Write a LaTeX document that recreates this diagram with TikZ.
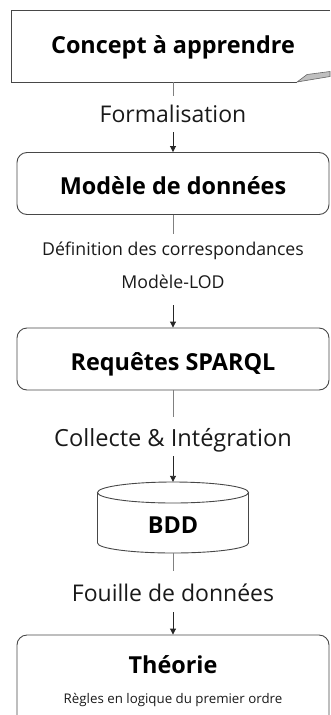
\documentclass[tikz,border=0pt]{standalone}
\usepackage{fontspec}
\setmainfont{Open Sans}
\usetikzlibrary{arrows.meta}
\begin{document}
\begin{tikzpicture}[x=1pt,y=-1pt,
  boxline/.style={draw=black!72, line width=0.9pt},
  rbox/.style={boxline, rounded corners=10pt, minimum width=312pt, minimum height=62pt, inner sep=0pt},
  ghost/.style={draw=none, inner sep=0pt},
  title/.style={font=\fontsize{23.4}{27}\selectfont\bfseries, anchor=base, inner sep=0pt},
  lbl/.style={font=\fontsize{23}{27}\selectfont, anchor=base, inner sep=0pt, text=black!90},
  slbl/.style={font=\fontsize{17.7}{21}\selectfont, anchor=base, inner sep=0pt, text=black!90},
  tiny/.style={font=\fontsize{13.3}{16}\selectfont, anchor=base, inner sep=0pt, text=black!90},
  lead/.style={draw=black!50, line width=0.9pt},
  arr/.style={draw=black!85, line width=0.9pt, -{Triangle[width=6pt,length=6pt]}}]
\useasboundingbox (0,0) rectangle (330,715);

% note box
\node[ghost, minimum width=326pt, minimum height=72pt] (note) at (173,46) {};
\draw[boxline] (330,10) -- (11,10) -- (11,82) -- (297,82);
\draw[draw=black!60, fill=black!25, line width=0.6pt] (297,82) -- (307,74.5) -- (330,71.5) -- (330,76.5) -- cycle;
\node[title] (t1) at (173,53.5) {Concept à apprendre};

% boxes
\node[rbox] (model) at (173,183.5) {};
\node[title] (t2) at (173,194) {Modèle de données};
\node[rbox] (req) at (173,359) {};
\node[title] (t3) at (173,370) {Requêtes SPARQL};
\node[ghost, minimum width=151pt, minimum height=71pt] (bdd) at (173,517.5) {};
\draw[boxline] (173,492.5) ellipse [x radius=75.5, y radius=10.5];
\draw[boxline] (97.5,492.5) -- (97.5,543) arc[start angle=180, end angle=0, x radius=75.5, y radius=10] -- (248.5,492.5);
\node[title] (t4) at (173,533.5) {BDD};
\node[rbox, minimum height=90pt] (theo) at (173,680) {};
\node[title] (t5) at (173,673) {Théorie};
\node[tiny] (t6) at (173,703) {Règles en logique du premier ordre};

% labels
\node[lbl] (l1) at (173,122.5) {Formalisation};
\node[slbl] (l2a) at (173,255) {Définition des correspondances};
\node[slbl] (l2b) at (173,288) {Modèle-LOD};
\node[lbl, font=\fontsize{23.6}{27}\selectfont] (l3) at (173,446) {Collecte \& Intégration};
\node[lbl] (l4) at (173,601) {Fouille de données};

% connectors
\coordinate (a1) at (173,96);  \coordinate (b1) at (173,132);
\coordinate (a2) at (173,234); \coordinate (b2) at (173,305);
\coordinate (a3) at (173,417); \coordinate (b3) at (173,456);
\coordinate (a4) at (173,571); \coordinate (b4) at (173,612);
\draw[lead] (note.south) -- (a1);
\draw[arr] (b1) -- (model.north);
\draw[lead] (model.south) -- (a2);
\draw[arr] (b2) -- (req.north);
\draw[lead] (req.south) -- (a3);
\draw[arr] (b3) -- (bdd.north);
\draw[lead] (bdd.south) -- (a4);
\draw[arr] (b4) -- (theo.north);
\end{tikzpicture}
\end{document}
